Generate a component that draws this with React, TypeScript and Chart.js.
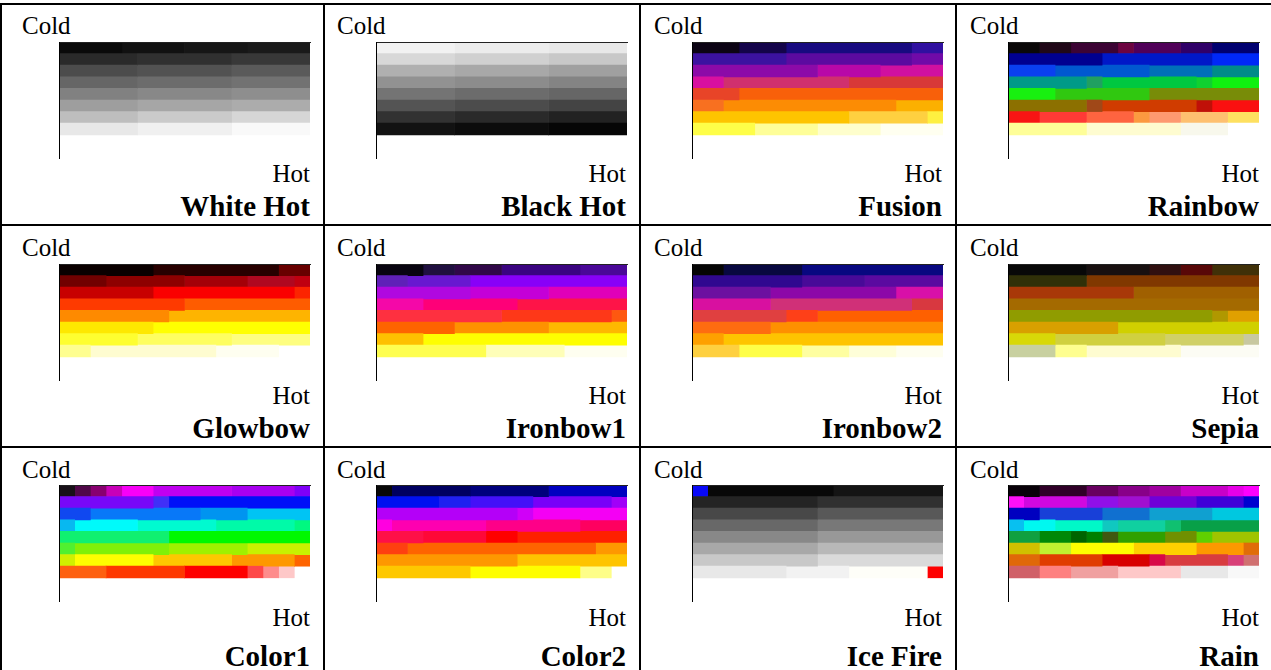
import React, { useEffect, useRef } from "react";
import { Chart, registerables } from "chart.js";

Chart.register(...registerables);

type Seg = [number, string];

// ---- Data: each palette = 8 rows (cold -> hot), each row = segments [span in 1/16ths, colour]
const whiteHot: Seg[][] = [
  [[4, "#0a0a0a"], [4, "#111111"], [4, "#161616"], [4, "#1a1a1a"]],
  [[5, "#2a2a2a"], [6, "#303030"], [5, "#383838"]],
  [[5, "#4c4c4c"], [6, "#525252"], [5, "#5a5a5a"]],
  [[5, "#666666"], [6, "#6c6c6c"], [5, "#727272"]],
  [[5, "#818181"], [6, "#888888"], [5, "#8e8e8e"]],
  [[5, "#9e9e9e"], [6, "#a6a6a6"], [5, "#acacac"]],
  [[5, "#bebebe"], [6, "#cacaca"], [5, "#d6d6d6"]],
  [[5, "#e8e8e8"], [6, "#f0f0f0"], [5, "#f9f9f9"]],
];
const blackHot: Seg[][] = [
  [[5, "#f2f2f2"], [6, "#ececec"], [5, "#e8e8e8"]],
  [[5, "#d8d8d8"], [6, "#d0d0d0"], [5, "#c8c8c8"]],
  [[5, "#b0b0b0"], [6, "#a8a8a8"], [5, "#a0a0a0"]],
  [[5, "#929292"], [6, "#8c8c8c"], [5, "#848484"]],
  [[5, "#747474"], [6, "#6c6c6c"], [5, "#666666"]],
  [[5, "#545454"], [6, "#4c4c4c"], [5, "#444444"]],
  [[5, "#323232"], [6, "#2a2a2a"], [5, "#222222"]],
  [[5, "#121212"], [6, "#0c0c0c"], [5, "#060606"]],
];
const fusion: Seg[][] = [
  [[3, "#0c0414"], [3, "#14044a"], [8, "#180a80"], [2, "#3010a0"]],
  [[6, "#3c12a0"], [8, "#5c0aa0"], [2, "#700aa8"]],
  [[8, "#8c0aa8"], [4, "#b808a8"], [4, "#d010a0"]],
  [[2, "#d810a0"], [8, "#d0306e"], [6, "#d83838"]],
  [[3, "#e84428"], [13, "#f8600a"]],
  [[2, "#f87020"], [11, "#fc8c04"], [3, "#fcb000"]],
  [[10, "#fec400"], [5, "#fed040"], [1, "#fef040"]],
  [[4, "#fefe48"], [4, "#fefe98"], [4, "#fefecc"], [4, "#fffff0"]],
];
const rainbow: Seg[][] = [
  [[2, "#0a0808"], [2, "#200818"], [3, "#3c0434"], [1, "#6c0440"], [3, "#500058"], [2, "#300068"], [3, "#000070"]],
  [[6, "#000090"], [7, "#0018c8"], [3, "#0028f8"]],
  [[3, "#0a40f0"], [6, "#0058d0"], [4, "#0070b8"], [3, "#008c88"]],
  [[5, "#009a88"], [1, "#20a060"], [6, "#00c840"], [1, "#10d030"], [3, "#10f010"]],
  [[3, "#18f010"], [6, "#30c810"], [7, "#788c08"]],
  [[5, "#8c7000"], [1, "#a04818"], [6, "#d03c00"], [1, "#c01008"], [3, "#fa1010"]],
  [[2, "#f81414"], [3, "#fe3a36"], [3, "#fe6440"], [1, "#fc9a40"], [2, "#fe9a70"], [3, "#fec070"], [2, "#fee060"]],
  [[5, "#fefe98"], [6, "#fefcd0"], [3, "#f8f8ec"], [2, "#ffffff"]],
];
const glowbow: Seg[][] = [
  [[6, "#0a0000"], [8, "#280000"], [2, "#680000"]],
  [[3, "#720000"], [5, "#8e0000"], [4, "#a40008"], [3, "#b00820"], [1, "#c00010"]],
  [[6, "#c80000"], [9, "#fa0000"], [1, "#fc2400"]],
  [[8, "#fe3a00"], [8, "#fe5c00"]],
  [[7, "#fe8a00"], [9, "#feb400"]],
  [[6, "#fee800"], [10, "#ffff00"]],
  [[5, "#fefe30"], [6, "#fefe60"], [5, "#fefe80"]],
  [[2, "#fefe90"], [8, "#fefcd0"], [4, "#fefef0"], [2, "#ffffff"]],
];
const ironbow1: Seg[][] = [
  [[3, "#080410"], [2, "#201040"], [3, "#300848"], [5, "#3a0480"], [3, "#4a0898"]],
  [[2, "#6020b8"], [4, "#6818d0"], [10, "#8800f8"]],
  [[6, "#b008e0"], [5, "#c400d8"], [5, "#e000b8"]],
  [[3, "#f408a8"], [6, "#fe0078"], [7, "#fe1448"]],
  [[8, "#fe3040"], [7, "#fe3818"], [1, "#fe5810"]],
  [[5, "#fe6400"], [6, "#fe9200"], [5, "#feb800"]],
  [[3, "#fec000"], [13, "#fefe00"]],
  [[7, "#fefe50"], [5, "#fefeb8"], [4, "#fefef0"]],
];
const ironbow2: Seg[][] = [
  [[2, "#050505"], [5, "#080840"], [9, "#080880"]],
  [[7, "#300890"], [4, "#480a98"], [5, "#5a0aa0"]],
  [[5, "#6c10a0"], [8, "#8c08a8"], [3, "#d810a8"]],
  [[5, "#d810a0"], [9, "#d03078"], [2, "#d83840"]],
  [[6, "#e04040"], [2, "#fe4018"], [8, "#fe6000"]],
  [[5, "#fe6c10"], [11, "#fe9000"]],
  [[2, "#fea000"], [14, "#fec400"]],
  [[3, "#fed040"], [4, "#fefe48"], [3, "#fefea0"], [3, "#fefed8"], [3, "#fefef0"]],
];
const sepia: Seg[][] = [
  [[5, "#080808"], [4, "#181010"], [2, "#301010"], [2, "#580808"], [3, "#403008"]],
  [[5, "#303008"], [11, "#803800"]],
  [[8, "#a83808"], [8, "#a06000"]],
  [[16, "#a46a00"]],
  [[13, "#909c00"], [1, "#b09800"], [2, "#e0a000"]],
  [[7, "#d8a000"], [9, "#d0d000"]],
  [[3, "#d8d808"], [7, "#d0d040"], [5, "#d0d068"], [1, "#c8c8a0"]],
  [[3, "#c8d0a0"], [2, "#fefe90"], [6, "#fefcd0"], [5, "#fcfcf4"]],
];
const color1: Seg[][] = [
  [[1, "#181018"], [1, "#500848"], [1, "#880070"], [1, "#c800b8"], [2, "#f800f8"], [5, "#c000f0"], [4, "#a800f0"], [1, "#8000f8"]],
  [[6, "#7808f8"], [1, "#4030f8"], [9, "#0010f8"]],
  [[2, "#1048f0"], [7, "#0878f8"], [3, "#0094f0"], [4, "#00c4f4"]],
  [[1, "#08b8f0"], [4, "#00fafa"], [5, "#00fad0"], [5, "#00faa8"], [1, "#00f880"]],
  [[7, "#10f070"], [9, "#00f800"]],
  [[1, "#50f030"], [6, "#80f008"], [5, "#a0f000"], [4, "#c8f000"]],
  [[1, "#d0f000"], [5, "#fefe00"], [5, "#fec800"], [4, "#fe9800"], [1, "#fe6400"]],
  [[3, "#fe6010"], [5, "#fe3800"], [4, "#fe0000"], [1, "#fe4848"], [1, "#fe8c8c"], [1, "#fec8c8"], [1, "#ffffff"]],
];
const color2: Seg[][] = [
  [[1, "#080808"], [5, "#000060"], [5, "#00007c"], [5, "#0000c0"]],
  [[4, "#0010f0"], [2, "#2020f0"], [4, "#4410f8"], [5, "#7800f8"], [1, "#a000f8"]],
  [[9, "#b400f8"], [1, "#d000f8"], [6, "#f400f4"]],
  [[1, "#ff00e0"], [6, "#fe00b0"], [6, "#fe0088"], [3, "#fe0060"]],
  [[3, "#fe1048"], [4, "#fe0838"], [2, "#fe0000"], [7, "#fe2000"]],
  [[2, "#fe4010"], [12, "#fe6400"], [2, "#fe9800"]],
  [[9, "#fe9800"], [7, "#fec400"]],
  [[6, "#fec800"], [7, "#fefe00"], [2, "#fefe88"], [1, "#ffffff"]],
];
const iceFire: Seg[][] = [
  [[1, "#0808f8"], [8, "#080808"], [7, "#141414"]],
  [[8, "#242424"], [8, "#303030"]],
  [[8, "#484848"], [8, "#585858"]],
  [[8, "#686868"], [8, "#787878"]],
  [[8, "#888888"], [8, "#989898"]],
  [[8, "#a8a8a8"], [8, "#b8b8b8"]],
  [[8, "#c8c8c8"], [8, "#dadada"]],
  [[6, "#e8e8e8"], [4, "#f2f2f2"], [5, "#fefef8"], [1, "#fe0000"]],
];
const rain: Seg[][] = [
  [[2, "#080008"], [3, "#300028"], [2, "#680060"], [2, "#880088"], [2, "#a000a0"], [3, "#c800c8"], [1, "#e800e8"], [1, "#fe00fe"]],
  [[1, "#fe10f8"], [4, "#d008e0"], [2, "#9010e8"], [2, "#a010d0"], [3, "#7000d8"], [3, "#4000d8"], [1, "#0000d0"]],
  [[2, "#0000c0"], [4, "#1840d8"], [3, "#1070d0"], [4, "#10a0d0"], [3, "#00c8e0"]],
  [[1, "#08c0f0"], [2, "#00f8f0"], [3, "#00f8c8"], [1, "#10c8c0"], [3, "#10d0a0"], [1, "#10c070"], [5, "#08a048"]],
  [[2, "#10a040"], [2, "#008808"], [1, "#006400"], [1, "#008000"], [1, "#405810"], [3, "#30a000"], [2, "#709000"], [1, "#60d000"], [3, "#a0c400"]],
  [[2, "#d0c000"], [2, "#c0f030"], [4, "#fefe00"], [4, "#fed000"], [3, "#fe9800"], [1, "#e06c08"]],
  [[2, "#e06808"], [4, "#e03c00"], [3, "#d80000"], [1, "#d80848"], [4, "#d83c40"], [1, "#d84078"], [1, "#d07070"]],
  [[2, "#d06068"], [2, "#fe8080"], [3, "#f0a0a0"], [4, "#fec8c8"], [3, "#e8e8e8"], [2, "#f8f8f8"]],
];

const paletteNames = ["White Hot", "Black Hot", "Fusion", "Rainbow", "Glowbow", "Ironbow1", "Ironbow2", "Sepia", "Color1", "Color2", "Ice Fire", "Rain"];
const paletteRows = [whiteHot, blackHot, fusion, rainbow, glowbow, ironbow1, ironbow2, sepia, color1, color2, iceFire, rain];
const rowLabels = ["r1", "r2", "r3", "r4", "r5", "r6", "r7", "r8", "r9", "r10"];
const coldLabel = "Cold";
const hotLabel = "Hot";
const scaleMax = 16;

// ---- Layout (page pixels)
const W = 1271;
const H = 670;
const swatchLeft = [59, 376, 692, 1008];
const swatchWidth = 251;
const swatchTop = [42, 264, 485];
const axisHeight = 116;
const coldLeft = [22, 337, 654, 970];
const rightEdge = [310, 626, 942, 1259];
const coldBase = [34, 256, 478];
const hotBase = [182, 404, 626];
const titleBase = [216, 438, 666];
const vLines = [0, 323, 639, 955];
const hLines = [3, 224, 446];
const serif = '"Liberation Serif", "Times New Roman", Times, serif';
const smallFs = 25;
const titleFs = 29;

function Swatch({ rows, left, top }: { rows: Seg[][]; left: number; top: number }) {
  const ref = useRef<HTMLCanvasElement | null>(null);
  useEffect(() => {
    if (!ref.current) return;
    const maxSegs = Math.max(...rows.map((r) => r.length));
    const datasets: any[] = [];
    for (let k = 0; k < maxSegs; k++) {
      datasets.push({
        data: rowLabels.map((_, i) => (rows[i] && rows[i][k] ? rows[i][k][0] : null)),
        backgroundColor: rowLabels.map((_, i) => (rows[i] && rows[i][k] ? rows[i][k][1] : "rgba(0,0,0,0)")),
        borderWidth: 0,
        barPercentage: 1,
        categoryPercentage: 1,
      });
    }
    const chart = new Chart(ref.current, {
      type: "bar",
      data: { labels: rowLabels, datasets },
      options: {
        indexAxis: "y",
        responsive: false,
        animation: false,
        events: [],
        layout: { padding: { left: 2, top: 2, right: 1, bottom: 1 }, autoPadding: false },
        plugins: { legend: { display: false }, tooltip: { enabled: false }, title: { display: false } },
        scales: {
          x: {
            type: "linear",
            stacked: true,
            min: 0,
            max: scaleMax,
            position: "top",
            ticks: { display: false },
            grid: { display: false, drawTicks: false, tickLength: 0 },
            border: { display: true, color: "#222", width: 1, z: 1 },
          },
          y: {
            type: "category",
            stacked: true,
            ticks: { display: false },
            grid: { display: false, drawTicks: false, tickLength: 0 },
            border: { display: true, color: "#000", width: 1, z: 1 },
          },
        },
      } as any,
    });
    return () => chart.destroy();
  }, [rows]);
  return (
    <canvas
      ref={ref}
      width={swatchWidth + 3}
      height={axisHeight + 3}
      style={{ position: "absolute", left: left - 2, top: top - 2, width: swatchWidth + 3, height: axisHeight + 3 }}
    />
  );
}

function Text({ text, x, base, fs, bold, alignRight }: { text: string; x: number; base: number; fs: number; bold?: boolean; alignRight?: boolean }) {
  const top = base - 0.8375 * fs;
  const style: React.CSSProperties = {
    position: "absolute",
    top,
    fontFamily: serif,
    fontSize: fs,
    lineHeight: `${fs}px`,
    fontWeight: bold ? "bold" : "normal",
    color: "#000",
    whiteSpace: "nowrap",
  };
  if (alignRight) style.right = W - x;
  else style.left = x;
  return <div style={style}>{text}</div>;
}

export default function App() {
  const cells: React.ReactNode[] = [];
  paletteNames.forEach((name, idx) => {
    const r = Math.floor(idx / 4);
    const c = idx % 4;
    cells.push(
      <React.Fragment key={name}>
        <Text text={coldLabel} x={coldLeft[c]} base={coldBase[r]} fs={smallFs} />
        <Swatch rows={paletteRows[idx]} left={swatchLeft[c]} top={swatchTop[r]} />
        <Text text={hotLabel} x={rightEdge[c]} base={hotBase[r]} fs={smallFs} alignRight />
        <Text text={name} x={rightEdge[c]} base={titleBase[r]} fs={titleFs} bold alignRight />
      </React.Fragment>
    );
  });
  return (
    <div style={{ position: "absolute", left: 0, top: 0, width: W, height: H, overflow: "hidden", background: "#fff" }}>
      {vLines.map((x, i) => (
        <div key={"v" + i} style={{ position: "absolute", left: x, top: hLines[0], width: 2, height: H - hLines[0], background: "#000" }} />
      ))}
      {hLines.map((y, i) => (
        <div key={"h" + i} style={{ position: "absolute", left: 0, top: y, width: W, height: 2, background: "#000" }} />
      ))}
      {cells}
    </div>
  );
}
